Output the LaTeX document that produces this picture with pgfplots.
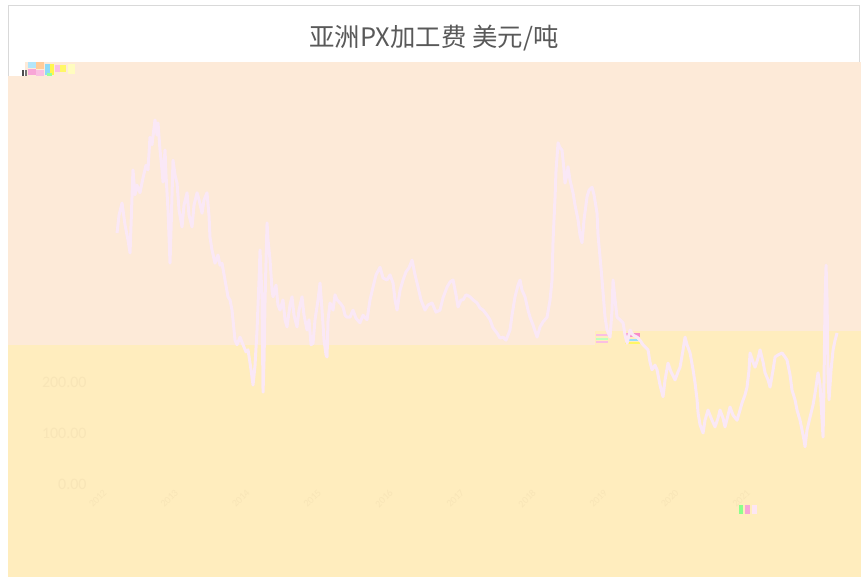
\documentclass[border=0pt]{standalone}
\usepackage{fontspec}
\setmainfont{Carlito}
\newfontfamily\cjk{Noto Sans CJK SC}
\usepackage{pgfplots}
\pgfplotsset{compat=1.18}
\definecolor{peach}{RGB}{253,234,216}
\definecolor{pyellow}{RGB}{255,237,190}
\definecolor{linec}{RGB}{250,232,246}
\definecolor{ticktxt}{RGB}{248,229,183}
\definecolor{bordergray}{RGB}{217,217,217}
\definecolor{titlegray}{RGB}{89,89,89}
\begin{document}
\begin{tikzpicture}[x=1bp,y=1bp]
\useasboundingbox (0,0) rectangle (861,577);
\fill[white] (0,0) rectangle (861,577);
\draw[bordergray, line width=1.2bp] (8.5,1) -- (8.5,571.5) -- (859.5,571.5) -- (859.5,1);
\fill[peach] (25,232) rectangle (861,515);
\fill[peach] (8,232) rectangle (25,501);
\fill[pyellow] (8,0) rectangle (861,232);
\fill[pyellow] (595,232) rectangle (861,246);
% small coloured artefacts seen in the reference
\fill[black!70] (22,501) rectangle (24,507);
\fill[black!55] (25,501) rectangle (27,507);
\fill[cyan!30] (28,509) rectangle (36,515);
\fill[magenta!35] (28,502) rectangle (36,508);
\fill[orange!40] (36,508) rectangle (44,515);
\fill[magenta!25] (36,501) rectangle (44,507);
\fill[cyan!45] (45,502) rectangle (50,513);
\fill[yellow!70] (50,502) rectangle (54,513);
\fill[green!40] (47,501) rectangle (52,504);
\fill[magenta!25] (55,505) rectangle (60,512);
\fill[yellow!60] (60,505) rectangle (66,512);
\fill[yellow!25] (68,503) rectangle (75,513);
\fill[magenta!25] (596,241) rectangle (608,243);
\fill[green!25] (596,237) rectangle (608,239);
\fill[magenta!25] (596,234) rectangle (608,236);
\fill[magenta!45] (625,240) rectangle (640,244);
\fill[cyan!40] (625,236) rectangle (640,238);
\fill[yellow!60] (625,233) rectangle (640,235);
\fill[green!45] (739,63) rectangle (743,72);
\fill[magenta!35] (745,63) rectangle (750,72);
\fill[magenta!10] (752,63) rectangle (757,72);
\node[text=titlegray, font=\cjk\fontsize{25.5}{30}\selectfont] at (434,539) {亚洲PX加工费 美元/吨};
\begin{axis}[
  at={(90bp,93bp)}, anchor=south west,
  scale only axis, width=760bp, height=408bp,
  xmin=2011.902, xmax=2022.531, ymin=0, ymax=800,
  axis line style={draw=none}, major tick length=0pt,
  ytick={0,100,200}, yticklabels={0.00,100.00,200.00},
  xtick={2012,2013,2014,2015,2016,2017,2018,2019,2020,2021},
  xticklabels={2012,2013,2014,2015,2016,2017,2018,2019,2020,2021},
  xticklabel style={rotate=45, anchor=north east, font=\fontsize{10}{12}\selectfont, text=ticktxt, yshift=-4bp, xshift=4bp},
  yticklabel style={font=\fontsize{16}{19}\selectfont, text=ticktxt},
  /pgf/number format/assume math mode=true,
  clip=false,
]
\addplot[color=linec, line width=3bp, line join=round] coordinates {
(2012.280,492)(2012.308,527)(2012.350,551)(2012.392,508)(2012.434,478)(2012.462,453)(2012.476,508)(2012.503,616)(2012.531,567)(2012.559,586)
(2012.601,571)(2012.643,600)(2012.685,625)(2012.713,616)(2012.741,680)(2012.769,665)(2012.811,714)(2012.839,684)(2012.853,708)(2012.881,655)
(2012.909,616)(2012.923,592)(2012.951,655)(2012.965,606)(2012.993,537)(2013.021,433)(2013.035,498)(2013.063,635)(2013.091,606)(2013.119,590)
(2013.147,537)(2013.189,504)(2013.217,547)(2013.259,571)(2013.287,527)(2013.329,504)(2013.357,547)(2013.399,571)(2013.427,557)(2013.469,531)
(2013.497,557)(2013.538,571)(2013.566,527)(2013.580,484)(2013.608,459)(2013.650,433)(2013.692,449)(2013.720,429)(2013.748,433)(2013.790,400)
(2013.832,367)(2013.860,361)(2013.888,341)(2013.916,302)(2013.930,282)(2013.958,273)(2014.000,288)(2014.042,273)(2014.084,259)(2014.112,263)
(2014.154,224)(2014.182,194)(2014.210,233)(2014.238,302)(2014.266,400)(2014.280,459)(2014.308,361)(2014.322,180)(2014.336,243)(2014.350,361)
(2014.378,512)(2014.392,478)(2014.420,439)(2014.448,380)(2014.462,367)(2014.503,390)(2014.531,351)(2014.559,341)(2014.601,361)(2014.629,322)
(2014.657,308)(2014.699,351)(2014.727,367)(2014.755,331)(2014.797,308)(2014.825,341)(2014.867,367)(2014.895,331)(2014.937,302)(2014.965,322)
(2014.993,273)(2015.021,276)(2015.049,322)(2015.091,361)(2015.119,394)(2015.147,341)(2015.175,282)(2015.203,253)(2015.217,249)(2015.231,322)
(2015.259,355)(2015.301,341)(2015.329,371)(2015.357,361)(2015.399,355)(2015.441,347)(2015.469,331)(2015.497,327)(2015.538,327)(2015.580,341)
(2015.622,325)(2015.678,316)(2015.720,331)(2015.776,322)(2015.818,361)(2015.860,386)(2015.902,410)(2015.958,425)(2016.000,404)(2016.056,400)
(2016.098,410)(2016.140,394)(2016.168,361)(2016.196,341)(2016.238,380)(2016.280,400)(2016.322,416)(2016.364,424)(2016.406,439)(2016.448,410)
(2016.490,386)(2016.531,361)(2016.587,341)(2016.629,351)(2016.685,355)(2016.741,337)(2016.797,341)(2016.839,365)(2016.895,386)(2016.937,396)
(2016.979,400)(2017.021,371)(2017.049,347)(2017.091,361)(2017.119,361)(2017.161,371)(2017.217,367)(2017.259,361)(2017.315,355)(2017.357,345)
(2017.399,341)(2017.455,331)(2017.497,322)(2017.538,306)(2017.594,296)(2017.636,286)(2017.678,288)(2017.720,282)(2017.776,302)(2017.804,331)
(2017.846,367)(2017.888,390)(2017.916,400)(2017.944,380)(2017.986,367)(2018.028,341)(2018.056,327)(2018.098,312)(2018.154,288)(2018.196,308)
(2018.238,318)(2018.294,327)(2018.336,361)(2018.364,400)(2018.378,478)(2018.406,563)(2018.420,616)(2018.448,669)(2018.476,659)(2018.503,655)
(2018.531,616)(2018.545,590)(2018.573,606)(2018.587,622)(2018.615,596)(2018.657,571)(2018.685,547)(2018.727,518)(2018.755,488)(2018.783,473)
(2018.811,518)(2018.853,563)(2018.881,576)(2018.923,582)(2018.951,567)(2018.993,531)(2019.007,488)(2019.035,445)(2019.063,400)(2019.105,327)
(2019.133,302)(2019.175,288)(2019.203,341)(2019.217,400)(2019.245,361)(2019.273,327)(2019.315,322)(2019.357,316)(2019.385,292)(2019.413,276)
(2019.455,302)(2019.497,292)(2019.552,288)(2019.594,282)(2019.636,273)(2019.678,267)(2019.706,263)(2019.734,239)(2019.762,224)(2019.804,233)
(2019.832,224)(2019.874,194)(2019.916,171)(2019.944,204)(2019.986,237)(2020.028,220)(2020.084,204)(2020.126,220)(2020.154,229)(2020.196,263)
(2020.224,288)(2020.252,273)(2020.294,257)(2020.336,224)(2020.364,198)(2020.392,165)(2020.406,139)(2020.434,116)(2020.476,100)(2020.503,125)
(2020.545,145)(2020.601,125)(2020.643,112)(2020.685,129)(2020.713,145)(2020.755,129)(2020.783,112)(2020.825,135)(2020.853,151)(2020.895,135)
(2020.951,125)(2020.993,145)(2021.021,159)(2021.063,175)(2021.091,190)(2021.119,224)(2021.133,257)(2021.175,239)(2021.203,229)(2021.245,247)
(2021.273,263)(2021.315,239)(2021.343,218)(2021.385,204)(2021.413,190)(2021.455,224)(2021.483,249)(2021.524,253)(2021.580,257)(2021.622,249)
(2021.650,243)(2021.692,214)(2021.720,184)(2021.762,165)(2021.790,145)(2021.832,125)(2021.860,106)(2021.888,86)(2021.902,73)(2021.930,106)
(2021.972,131)(2022.014,155)(2022.042,178)(2022.084,218)(2022.112,194)(2022.140,125)(2022.154,92)(2022.168,204)(2022.182,361)(2022.196,429)
(2022.210,361)(2022.224,204)(2022.238,165)(2022.266,224)(2022.294,263)(2022.322,282)(2022.350,296)
};
\end{axis}
\end{tikzpicture}
\end{document}
